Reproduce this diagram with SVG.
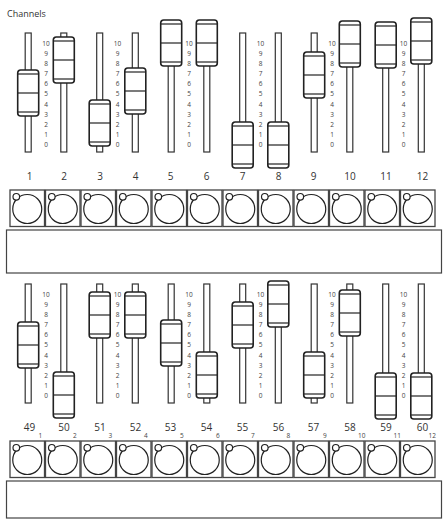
<svg xmlns="http://www.w3.org/2000/svg" xmlns:xlink="http://www.w3.org/1999/xlink" width="443" height="521" viewBox="0 0 443 521">
<style>
.bg{fill:#fff}
.track{fill:#fff;stroke:#333;stroke-width:1.2}
.knob rect{fill:#fff;stroke:#222;stroke-width:1.6}
.knob line{stroke:#222;stroke-width:1.2}
.jack rect{fill:#fff;stroke:#444;stroke-width:1.3}
.jack circle{fill:none;stroke:#222;stroke-width:1.2}
.jack circle.s{fill:#fff}
.panel{fill:#fff;stroke:#444;stroke-width:1.2}
.title{font-family:"Open Sans","Liberation Sans",sans-serif;font-size:9px;fill:#333}
.lbl{font-family:"Open Sans","Liberation Sans",sans-serif;font-size:10px;fill:#333;text-anchor:middle}
.sc{font-family:"Open Sans","Liberation Sans",sans-serif;font-size:6.5px;fill:#444;text-anchor:middle}
.num{font-family:"Open Sans","Liberation Sans",sans-serif;font-size:6.5px;fill:#444;text-anchor:start}
</style>
<defs>
<g id="knob" class="knob">
<rect x="-10.5" y="0" width="21" height="46" rx="3"/>
<line x1="-10.5" y1="4" x2="10.5" y2="4"/>
<line x1="-10.5" y1="23" x2="10.5" y2="23"/>
<line x1="-10.5" y1="42" x2="10.5" y2="42"/>
</g>
<g id="jack" class="jack">
<rect x="0.5" y="0" width="34.5" height="36.5"/>
<circle cx="17.75" cy="19" r="14.5"/>
<circle class="s" cx="6.8" cy="6.8" r="3.3"/>
</g>
<g id="scale" class="sc">
<text x="0" y="45.5">10</text>
<text x="0" y="55.7">9</text>
<text x="0" y="65.8">8</text>
<text x="0" y="76">7</text>
<text x="0" y="86.2">6</text>
<text x="0" y="96.4">5</text>
<text x="0" y="106.5">4</text>
<text x="0" y="116.7">3</text>
<text x="0" y="126.9">2</text>
<text x="0" y="137">1</text>
<text x="0" y="147.2">0</text>
</g>
</defs>
<rect class="bg" x="0" y="0" width="443" height="521"/>
<text class="title" x="7" y="17">Channels</text>

<g id="scales">
<use xlink:href="#scale" x="46"/>
<use xlink:href="#scale" x="117.5"/>
<use xlink:href="#scale" x="189"/>
<use xlink:href="#scale" x="260.5"/>
<use xlink:href="#scale" x="332"/>
<use xlink:href="#scale" x="403.5"/>
<use xlink:href="#scale" x="46" y="251"/>
<use xlink:href="#scale" x="117.5" y="251"/>
<use xlink:href="#scale" x="189" y="251"/>
<use xlink:href="#scale" x="260.5" y="251"/>
<use xlink:href="#scale" x="332" y="251"/>
<use xlink:href="#scale" x="403.5" y="251"/>
</g>

<g id="fader-1"><rect class="track" x="25.2" y="33" width="6" height="119"/><use xlink:href="#knob" x="28.2" y="70"/><text class="lbl" x="29.5" y="180">1</text></g>
<g id="fader-2"><rect class="track" x="60.8" y="33" width="6" height="119"/><use xlink:href="#knob" x="63.8" y="37"/><text class="lbl" x="64" y="180">2</text></g>
<g id="fader-3"><rect class="track" x="96.7" y="33" width="6" height="119"/><use xlink:href="#knob" x="99.7" y="100"/><text class="lbl" x="100" y="180">3</text></g>
<g id="fader-4"><rect class="track" x="132.3" y="33" width="6" height="119"/><use xlink:href="#knob" x="135.3" y="68"/><text class="lbl" x="135.5" y="180">4</text></g>
<g id="fader-5"><rect class="track" x="168.2" y="33" width="6" height="119"/><use xlink:href="#knob" x="171.2" y="20"/><text class="lbl" x="170.5" y="180">5</text></g>
<g id="fader-6"><rect class="track" x="203.8" y="33" width="6" height="119"/><use xlink:href="#knob" x="206.8" y="20"/><text class="lbl" x="206.5" y="180">6</text></g>
<g id="fader-7"><rect class="track" x="239.7" y="33" width="6" height="119"/><use xlink:href="#knob" x="242.7" y="122"/><text class="lbl" x="242.5" y="180">7</text></g>
<g id="fader-8"><rect class="track" x="275.3" y="33" width="6" height="119"/><use xlink:href="#knob" x="278.3" y="122"/><text class="lbl" x="278.5" y="180">8</text></g>
<g id="fader-9"><rect class="track" x="311.2" y="33" width="6" height="119"/><use xlink:href="#knob" x="314.2" y="52"/><text class="lbl" x="313.5" y="180">9</text></g>
<g id="fader-10"><rect class="track" x="346.8" y="33" width="6" height="119"/><use xlink:href="#knob" x="349.8" y="21"/><text class="lbl" x="350" y="180">10</text></g>
<g id="fader-11"><rect class="track" x="382.7" y="33" width="6" height="119"/><use xlink:href="#knob" x="385.7" y="22"/><text class="lbl" x="386" y="180">11</text></g>
<g id="fader-12"><rect class="track" x="418.3" y="33" width="6" height="119"/><use xlink:href="#knob" x="421.3" y="18"/><text class="lbl" x="422.5" y="180">12</text></g>

<g id="jacks-top">
<use xlink:href="#jack" x="9.5" y="190"/>
<use xlink:href="#jack" x="45" y="190"/>
<use xlink:href="#jack" x="80.5" y="190"/>
<use xlink:href="#jack" x="116" y="190"/>
<use xlink:href="#jack" x="151.5" y="190"/>
<use xlink:href="#jack" x="187" y="190"/>
<use xlink:href="#jack" x="222.5" y="190"/>
<use xlink:href="#jack" x="258" y="190"/>
<use xlink:href="#jack" x="293.5" y="190"/>
<use xlink:href="#jack" x="329" y="190"/>
<use xlink:href="#jack" x="364.5" y="190"/>
<use xlink:href="#jack" x="400" y="190"/>
</g>
<rect id="panel-top" class="panel" x="6.5" y="230" width="435" height="43"/>

<g id="fader-49"><rect class="track" x="25.2" y="284" width="6" height="119"/><use xlink:href="#knob" x="28.2" y="322"/><text class="lbl" x="29.5" y="431">49</text></g>
<g id="fader-50"><rect class="track" x="60.8" y="284" width="6" height="119"/><use xlink:href="#knob" x="63.8" y="372"/><text class="lbl" x="64" y="431">50</text></g>
<g id="fader-51"><rect class="track" x="96.7" y="284" width="6" height="119"/><use xlink:href="#knob" x="99.7" y="292"/><text class="lbl" x="100" y="431">51</text></g>
<g id="fader-52"><rect class="track" x="132.3" y="284" width="6" height="119"/><use xlink:href="#knob" x="135.3" y="292"/><text class="lbl" x="135.5" y="431">52</text></g>
<g id="fader-53"><rect class="track" x="168.2" y="284" width="6" height="119"/><use xlink:href="#knob" x="171.2" y="320"/><text class="lbl" x="170.5" y="431">53</text></g>
<g id="fader-54"><rect class="track" x="203.8" y="284" width="6" height="119"/><use xlink:href="#knob" x="206.8" y="352"/><text class="lbl" x="206.5" y="431">54</text></g>
<g id="fader-55"><rect class="track" x="239.7" y="284" width="6" height="119"/><use xlink:href="#knob" x="242.7" y="302"/><text class="lbl" x="242.5" y="431">55</text></g>
<g id="fader-56"><rect class="track" x="275.3" y="284" width="6" height="119"/><use xlink:href="#knob" x="278.3" y="281"/><text class="lbl" x="278.5" y="431">56</text></g>
<g id="fader-57"><rect class="track" x="311.2" y="284" width="6" height="119"/><use xlink:href="#knob" x="314.2" y="352"/><text class="lbl" x="313.5" y="431">57</text></g>
<g id="fader-58"><rect class="track" x="346.8" y="284" width="6" height="119"/><use xlink:href="#knob" x="349.8" y="290"/><text class="lbl" x="350" y="431">58</text></g>
<g id="fader-59"><rect class="track" x="382.7" y="284" width="6" height="119"/><use xlink:href="#knob" x="385.7" y="373"/><text class="lbl" x="386" y="431">59</text></g>
<g id="fader-60"><rect class="track" x="418.3" y="284" width="6" height="119"/><use xlink:href="#knob" x="421.3" y="373"/><text class="lbl" x="422.5" y="431">60</text></g>

<g id="jacks-bottom">
<use xlink:href="#jack" x="9.5" y="441"/>
<use xlink:href="#jack" x="45" y="441"/>
<use xlink:href="#jack" x="80.5" y="441"/>
<use xlink:href="#jack" x="116" y="441"/>
<use xlink:href="#jack" x="151.5" y="441"/>
<use xlink:href="#jack" x="187" y="441"/>
<use xlink:href="#jack" x="222.5" y="441"/>
<use xlink:href="#jack" x="258" y="441"/>
<use xlink:href="#jack" x="293.5" y="441"/>
<use xlink:href="#jack" x="329" y="441"/>
<use xlink:href="#jack" x="364.5" y="441"/>
<use xlink:href="#jack" x="400" y="441"/>
</g>
<g id="jack-numbers" class="num">
<text x="38.5" y="437.5">1</text>
<text x="73" y="437.5">2</text>
<text x="108.5" y="437.5">3</text>
<text x="144" y="437.5">4</text>
<text x="180" y="437.5">5</text>
<text x="216" y="437.5">6</text>
<text x="251" y="437.5">7</text>
<text x="286.5" y="437.5">8</text>
<text x="323" y="437.5">9</text>
<text x="358" y="437.5">10</text>
<text x="393.5" y="437.5">11</text>
<text x="428.5" y="437.5">12</text>
</g>
<rect id="panel-bottom" class="panel" x="6.5" y="481" width="435" height="37"/>
<g id="connectors"/>
</svg>
